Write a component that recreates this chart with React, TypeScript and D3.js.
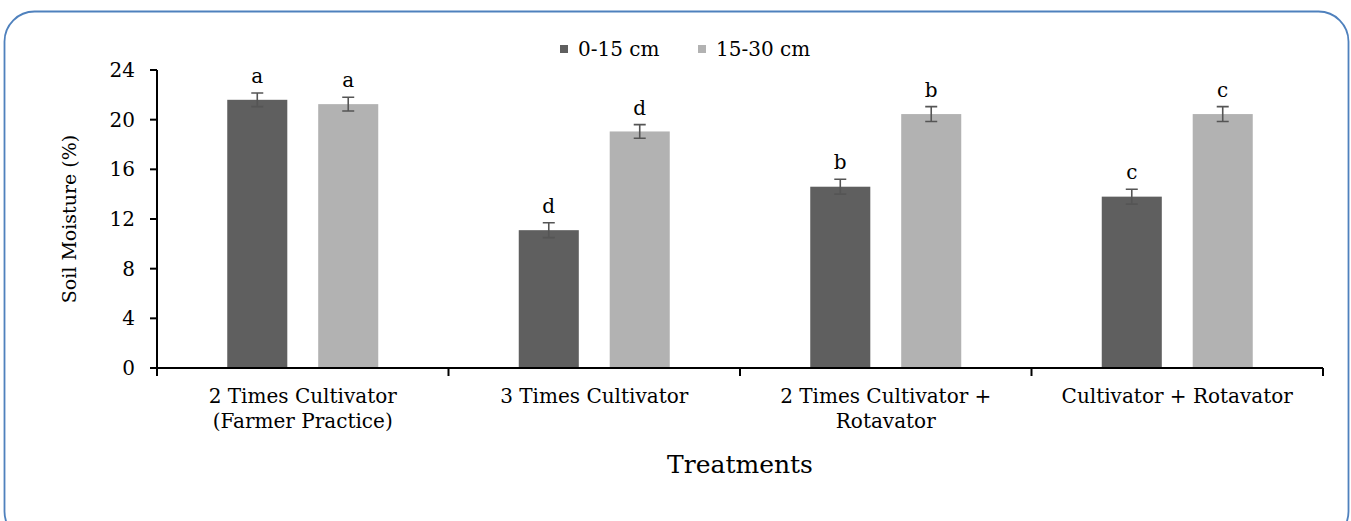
import React, { useEffect, useRef } from "react";
import * as d3 from "d3";

// treatments, two depths, standard errors and significance letters
const categories = [
  ["2 Times Cultivator", "(Farmer Practice)"],
  ["3 Times Cultivator"],
  ["2 Times Cultivator +", "Rotavator"],
  ["Cultivator + Rotavator"],
];
const series = ["0-15 cm", "15-30 cm"];
const shallow = [21.6, 11.1, 14.6, 13.8];
const deep = [21.25, 19.05, 20.45, 20.45];
const shallowErr = [0.55, 0.6, 0.6, 0.6];
const deepErr = [0.55, 0.55, 0.6, 0.6];
const shallowLetters = ["a", "d", "b", "c"];
const deepLetters = ["a", "d", "b", "c"];
const yTicks = [0, 4, 8, 12, 16, 20, 24];

const colors = ["#5f5f5f", "#b2b2b2"];
const font = "'DejaVu Serif', serif";

const App = () => {
  const svgRef = useRef<SVGSVGElement>(null);

  useEffect(() => {
    const width = 1351;
    const height = 521;
    const svg = d3.select(svgRef.current);
    svg.selectAll("*").remove();
    svg.attr("width", width).attr("height", height);

    // outer rounded frame
    svg
      .append("rect")
      .attr("x", 4.5)
      .attr("y", 11.5)
      .attr("width", 1344)
      .attr("height", 530)
      .attr("rx", 30)
      .attr("fill", "#fff")
      .attr("stroke", "#4f81bd")
      .attr("stroke-width", 1.8);

    const left = 157;
    const right = 1323;
    const top = 70;
    const bottom = 368;

    const x = d3
      .scaleBand<number>()
      .domain(d3.range(categories.length))
      .range([left, right]);
    const y = d3.scaleLinear().domain([0, 24]).range([bottom, top]);

    const bw = x.bandwidth();
    const barW = bw * 0.206;
    const gap = bw * 0.106;
    const offset = (bw - 2 * barW - gap) / 2;

    const groups = [
      { vals: shallow, err: shallowErr, letters: shallowLetters, dx: offset },
      { vals: deep, err: deepErr, letters: deepLetters, dx: offset + barW + gap },
    ];

    groups.forEach((g, si) => {
      const gEl = svg.append("g");
      g.vals.forEach((v, i) => {
        const bx = (x(i) as number) + g.dx;
        gEl
          .append("rect")
          .attr("x", bx)
          .attr("y", y(v))
          .attr("width", barW)
          .attr("height", y(0) - y(v))
          .attr("fill", colors[si]);
        const cx = bx + barW / 2;
        const e = g.err[i];
        gEl
          .append("path")
          .attr(
            "d",
            `M${cx},${y(v + e)}V${y(v - e)}M${cx - 6},${y(v + e)}H${cx + 6}M${cx - 6},${y(v - e)}H${cx + 6}`
          )
          .attr("stroke", "#555")
          .attr("stroke-width", 1.6)
          .attr("fill", "none");
        gEl
          .append("text")
          .attr("x", cx)
          .attr("y", y(v + e) - 10)
          .attr("text-anchor", "middle")
          .attr("font-family", font)
          .attr("font-size", 20)
          .attr("fill", "#000")
          .text(g.letters[i]);
      });
    });

    // y axis
    const yAxis = svg.append("g");
    yAxis
      .append("line")
      .attr("x1", left)
      .attr("x2", left)
      .attr("y1", y(24))
      .attr("y2", y(0))
      .attr("stroke", "#000")
      .attr("stroke-width", 2);
    yTicks.forEach((t) => {
      yAxis
        .append("line")
        .attr("x1", left - 7)
        .attr("x2", left)
        .attr("y1", y(t))
        .attr("y2", y(t))
        .attr("stroke", "#000")
        .attr("stroke-width", 2);
      yAxis
        .append("text")
        .attr("x", left - 22)
        .attr("y", y(t))
        .attr("dy", "0.35em")
        .attr("text-anchor", "end")
        .attr("font-family", font)
        .attr("font-size", 20)
        .text(t);
    });

    // x axis
    const xAxis = svg.append("g");
    xAxis
      .append("line")
      .attr("x1", left - 7)
      .attr("x2", right)
      .attr("y1", y(0))
      .attr("y2", y(0))
      .attr("stroke", "#000")
      .attr("stroke-width", 2);
    d3.range(categories.length + 1).forEach((i) => {
      const tx = i < categories.length ? (x(i) as number) : right;
      xAxis
        .append("line")
        .attr("x1", tx)
        .attr("x2", tx)
        .attr("y1", y(0))
        .attr("y2", y(0) + 8)
        .attr("stroke", "#000")
        .attr("stroke-width", 2);
    });
    categories.forEach((lines, i) => {
      const t = xAxis
        .append("text")
        .attr("x", (x(i) as number) + bw / 2)
        .attr("y", 403)
        .attr("text-anchor", "middle")
        .attr("font-family", font)
        .attr("font-size", 20);
      lines.forEach((l, j) => {
        t.append("tspan")
          .attr("x", (x(i) as number) + bw / 2)
          .attr("dy", j === 0 ? 0 : 25)
          .text(l);
      });
    });

    // axis titles
    svg
      .append("text")
      .attr("x", (left + right) / 2)
      .attr("y", 473)
      .attr("text-anchor", "middle")
      .attr("font-family", font)
      .attr("font-size", 25)
      .text("Treatments");
    svg
      .append("text")
      .attr("transform", `translate(76,${(top + bottom) / 2}) rotate(-90)`)
      .attr("text-anchor", "middle")
      .attr("font-family", font)
      .attr("font-size", 19)
      .text("Soil Moisture (%)");

    // legend
    const legendX = [560, 698];
    series.forEach((s, i) => {
      svg
        .append("rect")
        .attr("x", legendX[i])
        .attr("y", 45)
        .attr("width", 8)
        .attr("height", 8)
        .attr("fill", colors[i]);
      svg
        .append("text")
        .attr("x", legendX[i] + 18)
        .attr("y", 49)
        .attr("dy", "0.35em")
        .attr("font-family", font)
        .attr("font-size", 20)
        .text(s);
    });
  }, []);

  return (
    <div style={{ position: "absolute", left: 0, top: 0 }}>
      <svg ref={svgRef} style={{ display: "block" }} />
    </div>
  );
};

export default App;
